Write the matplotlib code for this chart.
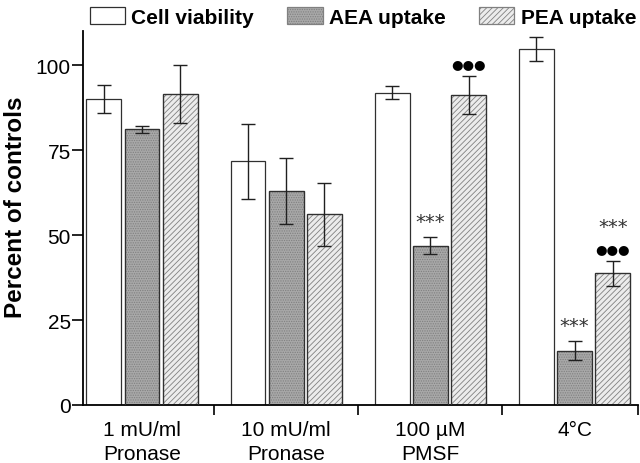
import numpy as np
import matplotlib
matplotlib.use("Agg")
import matplotlib.pyplot as plt
from matplotlib.patches import Patch

plt.rcParams['font.family'] = ['Liberation Sans', 'DejaVu Sans']
plt.rcParams['hatch.linewidth'] = 0.6

categories = ["1 mU/ml\nPronase", "10 mU/ml\nPronase", "100 µM\nPMSF", "4°C"]
series_names = ["Cell viability", "AEA uptake", "PEA uptake"]
viability = [90.0, 71.7, 91.9, 104.7]
viability_err = [4.0, 11.0, 2.0, 3.4]
aea = [81.1, 63.0, 46.8, 15.9]
aea_err = [1.0, 9.7, 2.5, 2.8]
pea = [91.5, 56.1, 91.2, 38.7]
pea_err = [8.5, 9.2, 5.5, 3.7]
# annotations: (series index, group index, text lines from top)
annotations = [(1, 2, ["***"]), (2, 2, ["●●●"]), (1, 3, ["***"]), (2, 3, ["***", "●●●"])]
yticks = [0, 25, 50, 75, 100]

fig = plt.figure(figsize=(6.4, 4.64), dpi=100)
ax = fig.add_axes([0.13, 0.125, 0.867, 0.806])

x = np.arange(len(categories))
width = 0.241
step = 0.265
values = [viability, aea, pea]
errors = [viability_err, aea_err, pea_err]
faces = ['white', '#a8a8a8', '#ececec']
hatches = [None, '.......', '//////']
edge = '#303030'

for i, (vals, errs) in enumerate(zip(values, errors)):
    pos = x + (i - 1) * step
    bars = ax.bar(pos, vals, width, color=faces[i], edgecolor=edge, linewidth=0.9,
                  hatch=hatches[i], zorder=2)
    if hatches[i]:
        for b in bars:
            b.set_edgecolor('#808080')
        ax.bar(pos, vals, width, color='none', edgecolor=edge, linewidth=0.9, zorder=3)
    ax.errorbar(pos, vals, yerr=errs, fmt='none', ecolor='#202020', elinewidth=1.0,
                capsize=5, capthick=1.0, zorder=4)

for si, gi, lines in annotations:
    top = values[si][gi] + errors[si][gi]
    pos = x[gi] + (si - 1) * step
    n = len(lines)
    for k, t in enumerate(lines):
        yy = top + 1.8 + (n - 1 - k) * 5.5
        if t.startswith('●'):
            ax.text(pos, yy, t, ha='center', va='bottom', fontsize=9.5,
                    family='DejaVu Sans', color='black')
        else:
            ax.text(pos, yy, t, ha='center', va='bottom', fontsize=14,
                    family='DejaVu Sans', color='#333333')

ax.set_xlim(-0.407, 3.44)
ax.set_ylim(0, 110)
ax.spines['top'].set_visible(False)
ax.spines['right'].set_visible(False)
ax.spines['left'].set_linewidth(1.3)
ax.spines['bottom'].set_linewidth(1.3)
ax.set_yticks(yticks)
ax.set_yticklabels([str(t) for t in yticks], fontsize=15)
ax.tick_params(axis='y', direction='out', length=8, width=1.2, pad=1)
ax.set_xticks([0.5, 1.5, 2.5, 3.44])
ax.set_xticklabels([])
ax.tick_params(axis='x', direction='out', length=7, width=1.2)
ax.set_xticks(x, minor=True)
ax.set_xticklabels(categories, minor=True, fontsize=15, linespacing=1.3)
ax.tick_params(axis='x', which='minor', length=0, pad=11)
ax.set_ylabel("Percent of controls", fontsize=17.5, fontweight='bold')
ax.yaxis.set_label_coords(-0.102, 0.531)

handles = [Patch(facecolor=faces[i], edgecolor=edge if i == 0 else '#808080',
                 hatch=hatches[i], linewidth=0.9) for i in range(3)]
fig.legend(handles, series_names, loc='center', bbox_to_anchor=(0.567, 0.962), ncol=3,
           frameon=False, prop={'weight': 'bold', 'size': 15}, handlelength=1.7,
           handleheight=0.9, columnspacing=1.6, handletextpad=0.3,
           borderpad=0.1, borderaxespad=0.1)

fig.savefig("out.png", dpi=100)
